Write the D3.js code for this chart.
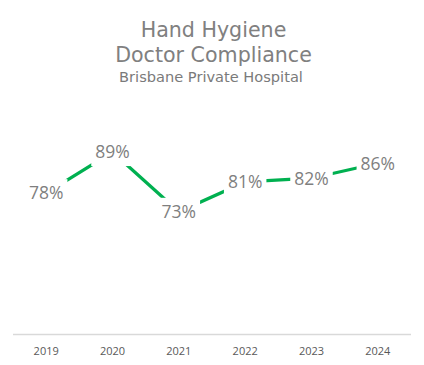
<!DOCTYPE html>
<html>
<head>
<meta charset="utf-8">
<script src="https://cdn.jsdelivr.net/npm/d3@7"></script>
<style>
  html, body { margin: 0; padding: 0; background: #ffffff; }
  svg { display: block; }
</style>
</head>
<body>
<div id="chart"></div>
<script>
// ---- Data ----
const years = ["2019", "2020", "2021", "2022", "2023", "2024"];
const compliance = [78, 89, 73, 81, 82, 86];
const titleLines = ["Hand Hygiene", "Doctor Compliance"];
const subtitle = "Brisbane Private Hospital";
const yDomain = [40, 100];

// ---- Layout ----
const W = 424, H = 365;
const svg = d3.select("#chart").append("svg")
  .attr("width", W).attr("height", H)
  .style("font-family", "'Open Sans', 'Noto Sans', sans-serif");

svg.append("rect").attr("width", W).attr("height", H).attr("fill", "#fff");

const x = d3.scaleBand().domain(years).range([13, 411]);
const y = d3.scaleLinear().domain(yDomain).range([335, 111]);

// Titles
const titleFont = "'DejaVu Sans', sans-serif";
svg.selectAll("text.title").data(titleLines).join("text")
  .attr("class", "title")
  .attr("x", 213.5)
  .attr("y", (d, i) => 37 + i * 25)
  .attr("text-anchor", "middle")
  .style("font-family", titleFont)
  .style("font-size", "20.6px")
  .attr("fill", "#808080")
  .text(d => d);

svg.append("text")
  .attr("x", 211).attr("y", 82)
  .attr("text-anchor", "middle")
  .style("font-family", titleFont)
  .style("font-size", "14.6px")
  .attr("fill", "#7a7a7a")
  .text(subtitle);

// Axis line (bottom of plot area)
const axisY = 334.5;
svg.append("line")
  .attr("x1", 13).attr("x2", 411)
  .attr("y1", axisY).attr("y2", axisY)
  .attr("stroke", "#d9d9d9").attr("stroke-width", 1.5);

// X axis labels via d3 axis
const xAxis = d3.axisBottom(x).tickSize(0).tickPadding(0);
const gx = svg.append("g").attr("transform", `translate(0,${axisY})`).call(xAxis);
gx.select(".domain").remove();
gx.selectAll("text")
  .attr("dy", null)
  .attr("y", 20)
  .style("font-family", "'Open Sans', 'Noto Sans', sans-serif")
  .style("font-size", "11px")
  .attr("fill", "#595959");

// Line
const pts = years.map((yr, i) => ({ year: yr, v: compliance[i] }));
const line = d3.line()
  .x(d => x(d.year) + x.bandwidth() / 2)
  .y(d => y(d.v));

svg.append("path")
  .datum(pts)
  .attr("d", line)
  .attr("fill", "none")
  .attr("stroke", "#00b050")
  .attr("stroke-width", 3.2);

// Data labels with white background boxes (they break the line)
const lbl = svg.append("g").selectAll("g").data(pts).join("g")
  .attr("transform", d => `translate(${x(d.year) + x.bandwidth() / 2},${y(d.v)})`);

lbl.append("text")
  .attr("text-anchor", "middle")
  .attr("dy", "0.36em")
  .style("font-size", "17.5px")
  .attr("fill", "#7f7f7f")
  .text(d => d.v + "%");

lbl.each(function() {
  const g = d3.select(this);
  const t = g.select("text");
  const w = t.node().getComputedTextLength();
  g.insert("rect", "text")
    .attr("x", -w / 2 - 4)
    .attr("y", -14)
    .attr("width", w + 8)
    .attr("height", 28)
    .attr("fill", "#fff");
});
</script>
</body>
</html>
